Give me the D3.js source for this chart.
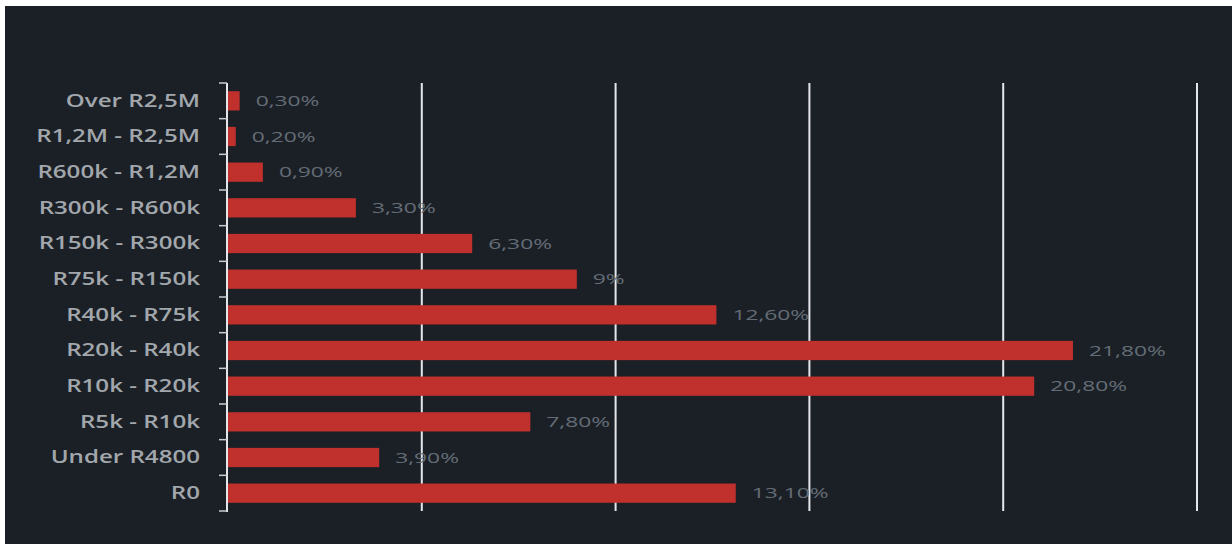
<!DOCTYPE html>
<html>
<head>
<meta charset="utf-8">
<title>Income bands</title>
<script src="https://cdn.jsdelivr.net/npm/d3@7"></script>
<style>
body { margin: 0; background: #fff; }
svg { display: block; }
</style>
</head>
<body>
<div id="chart"></div>
<script>
// income bands, top to bottom as drawn
var categories = ["Over R2,5M", "R1,2M - R2,5M", "R600k - R1,2M", "R300k - R600k",
  "R150k - R300k", "R75k - R150k", "R40k - R75k", "R20k - R40k",
  "R10k - R20k", "R5k - R10k", "Under R4800", "R0"];
var values = [0.3, 0.2, 0.9, 3.3, 6.3, 9, 12.6, 21.8, 20.8, 7.8, 3.9, 13.1];
var labels = ["0,30%", "0,20%", "0,90%", "3,30%", "6,30%", "9%", "12,60%",
  "21,80%", "20,80%", "7,80%", "3,90%", "13,10%"];
var gridTicks = [5, 10, 15, 20, 25];

var W = 1232, H = 544;
var svg = d3.select("#chart").append("svg").attr("width", W).attr("height", H);

svg.append("rect").attr("x", 5).attr("y", 6).attr("width", W - 5).attr("height", H - 6)
  .attr("fill", "#1b2027");

var x = d3.scaleLinear().domain([0, 25]).range([228, 1197]);
var y = d3.scaleBand().domain(categories).range([83, 511]).paddingInner(0.46).paddingOuter(0.23);

// the source picture is stretched sideways, so text is too
var stretchCat = 1.34, stretchVal = 1.52;

// vertical gridlines
svg.append("g").selectAll("line").data(gridTicks).join("line")
  .attr("x1", d => x(d)).attr("x2", d => x(d))
  .attr("y1", 83).attr("y2", 511)
  .attr("stroke", "#e4e6ea").attr("stroke-width", 2);

// bars
svg.append("g").selectAll("rect").data(values).join("rect")
  .attr("x", x(0))
  .attr("y", (d, i) => y(categories[i]))
  .attr("width", d => x(d) - x(0))
  .attr("height", y.bandwidth())
  .attr("fill", "#c0302c");

// value labels
svg.append("g").selectAll("text").data(values).join("text")
  .attr("transform", (d, i) => "translate(" + (x(d) + 16) + "," +
    (y(categories[i]) + y.bandwidth() / 2 + 1) + ") scale(" + stretchVal + ",1)")
  .attr("dominant-baseline", "middle")
  .attr("font-family", "Open Sans, sans-serif")
  .attr("font-size", 15)
  .attr("fill", "#646d76")
  .text((d, i) => labels[i]);

// category axis
var band = d3.scaleLinear().domain([0, categories.length]).range([83, 511]);
var axis = svg.append("g");
axis.append("line").attr("x1", 227).attr("x2", 227).attr("y1", 83).attr("y2", 512)
  .attr("stroke", "#e4e6ea").attr("stroke-width", 2);
axis.selectAll("line.tick").data(d3.range(categories.length + 1)).join("line")
  .attr("class", "tick")
  .attr("x1", 219).attr("x2", 227)
  .attr("y1", d => band(d)).attr("y2", d => band(d))
  .attr("stroke", "#c9ccd0").attr("stroke-width", 1.5);
axis.selectAll("text").data(categories).join("text")
  .attr("transform", d => "translate(200," + (y(d) + y.bandwidth() / 2 + 1) +
    ") scale(" + stretchCat + ",1)")
  .attr("text-anchor", "end")
  .attr("dominant-baseline", "middle")
  .attr("font-family", "Open Sans, sans-serif")
  .attr("font-size", 18)
  .attr("font-weight", 600)
  .attr("fill", "#a2a7ac")
  .text(d => d);
</script>
</body>
</html>
